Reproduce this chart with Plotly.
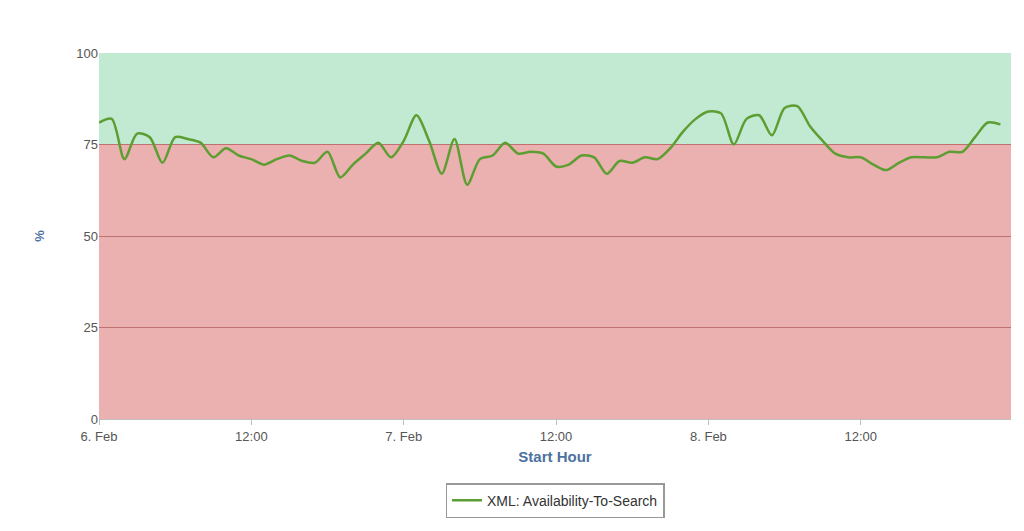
import plotly.graph_objects as go
import pandas as pd

start = "2013-02-06 00:00"
values = [81, 82, 71, 78, 77, 70, 77, 76.5, 75.5, 71.5, 74, 72, 71, 69.5, 71, 72, 70.5, 70, 73, 66, 69.5, 72.5, 75.5, 71.5,
          76, 83, 76, 67, 76.5, 64, 71, 72, 75.5, 72.5, 73, 72.5, 69, 69.5, 72, 71.5, 67, 70.5, 70, 71.5, 71, 74, 78.5, 82,
          84, 83.5, 75, 82, 83, 77.5, 85, 85.5, 80, 76, 72.5, 71.5, 71.5, 69.5, 68, 70, 71.5, 71.5, 71.5, 73, 73, 77, 81, 80.5]
times = pd.date_range(start, periods=len(values), freq="h")
tick_vals = ["2013-02-06 00:00", "2013-02-06 12:00", "2013-02-07 00:00", "2013-02-07 12:00", "2013-02-08 00:00", "2013-02-08 12:00"]
tick_text = ["6. Feb", "12:00", "7. Feb", "12:00", "8. Feb", "12:00"]
y_ticks = [0, 25, 50, 75, 100]
x_end = "2013-02-08 23:50"

fig = go.Figure()
fig.add_trace(go.Scatter(x=times, y=values, mode="lines", name="XML: Availability-To-Search",
                         line=dict(color="#5c9e32", width=2.5, shape="spline", smoothing=0.8)))
fig.add_shape(type="rect", xref="paper", yref="y", x0=0, x1=1, y0=0, y1=75,
              fillcolor="#ebb0b0", line_width=0, layer="below")
fig.add_shape(type="rect", xref="paper", yref="y", x0=0, x1=1, y0=75, y1=100,
              fillcolor="#c2e9d1", line_width=0, layer="below")
fig.update_layout(
    width=1024, height=531, margin=dict(l=91, r=21, t=45, b=120),
    paper_bgcolor="white", plot_bgcolor="white",
    font=dict(family="Liberation Sans, Arial", size=13, color="#555"),
    showlegend=True,
    legend=dict(orientation="h", x=0.5, xanchor="center", y=-0.175, yanchor="top",
                bordercolor="#999", borderwidth=1.5, font=dict(size=14, color="#333")),
    xaxis=dict(range=[start, x_end], tickvals=tick_vals, ticktext=tick_text, showgrid=False, automargin=False,
               showline=True, linecolor="#c0c0c0", ticks="outside", ticklen=5, tickcolor="#c0c0c0",
               title=dict(text="<b>Start Hour</b>", font=dict(color="#4d72a0", size=15), standoff=8)),
    yaxis=dict(range=[0, 100], tickvals=y_ticks, gridcolor="#c07070", gridwidth=1, zeroline=False, automargin=False,
               title=dict(text="<b>%</b>", font=dict(color="#4d72a0", size=13), standoff=28)),
)
fig.write_html("out.html")
